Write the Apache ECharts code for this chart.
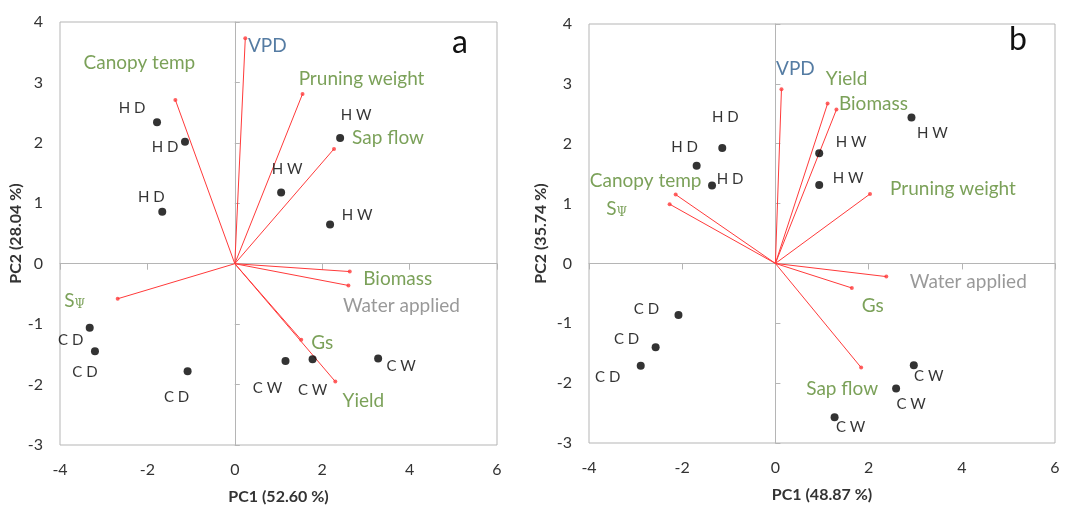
<!DOCTYPE html>
<html>
<head>
<meta charset="utf-8">
<script src="https://cdn.jsdelivr.net/npm/echarts@6/dist/echarts.min.js"></script>
<style>html,body{margin:0;padding:0;background:#fff}#c{width:1073px;height:505px}</style>
</head>
<body>
<div id="c"></div>
<script>
// ---------- Data: panel a ----------
const varNamesA = ['VPD','Canopy temp','Pruning weight','Sap flow','Biomass','Water applied','SΨ','Gs','Yield'];
const varPC1A = [0.24, -1.36, 1.55, 2.27, 2.63, 2.60, -2.68, 1.52, 2.30];
const varPC2A = [3.73, 2.71, 2.81, 1.90, -0.13, -0.36, -0.58, -1.26, -1.95];
const obsNamesA = ['H D','H D','H D','H W','H W','H W','C D','C D','C D','C W','C W','C W'];
const obsPC1A = [-1.78, -1.14, -1.66, 2.41, 1.06, 2.18, -3.32, -3.20, -1.08, 1.16, 1.78, 3.28];
const obsPC2A = [2.34, 2.02, 0.86, 2.08, 1.18, 0.65, -1.06, -1.45, -1.78, -1.61, -1.58, -1.57];

// ---------- Data: panel b ----------
const varNamesB = ['VPD','Yield','Biomass','Pruning weight','Canopy temp','SΨ','Water applied','Gs','Sap flow'];
const varPC1B = [0.13, 1.12, 1.31, 2.03, -2.14, -2.27, 2.38, 1.64, 1.84];
const varPC2B = [2.91, 2.67, 2.57, 1.16, 1.15, 0.99, -0.22, -0.41, -1.74];
const obsNamesB = ['H D','H D','H D','H W','H W','H W','C D','C D','C D','C W','C W','C W'];
const obsPC1B = [-1.14, -1.69, -1.36, 0.94, 0.94, 2.92, -2.08, -2.57, -2.89, 2.97, 2.59, 1.27];
const obsPC2B = [1.93, 1.63, 1.30, 1.84, 1.31, 2.44, -0.86, -1.40, -1.71, -1.70, -2.09, -2.57];

// ---------- Axis ----------
const xTicks = [-4, -2, 0, 2, 4, 6];
const yTicks = [-3, -2, -1, 0, 1, 2, 3, 4];
const axisTitles = { ax: 'PC1 (52.60 %)', ay: 'PC2 (28.04 %)', bx: 'PC1 (48.87 %)', by: 'PC2 (35.74 %)' };

// ---------- Styles (label offsets in px) ----------
const varOffA = [[22,8],[-36,-37],[59,-15],[54,-11],[48,7],[53,20],[-43,2],[21,3],[28,19]];
const obsOffA = [[-25,-14],[-20,6],[-11,-15],[16,-23],[6,-23],[27,-9],[-19,12],[-10,21],[-11,26],[-18,27],[0,31],[23,8]];
const varOffB = [[14,-20],[19,-25],[37,-6],[83,-5],[-30,-14],[-53,5],[82,5],[21,18],[-19,21]];
const obsOffB = [[3,-31],[-12,-19],[18,-6],[32,-11],[29,-7],[21,16],[-32,-6],[-29,-8],[-33,11],[15,11],[15,16],[16,10]];
const yNameGaps = [35, 40];

const GREEN = '#5a8a30', BLUE = '#2b5b8c', GREY = '#7f7f7f', RED = '#ff3a3a';
const FONT = 'Lato';
function varColor(n){ return n === 'VPD' ? BLUE : (n === 'Water applied' ? GREY : GREEN); }

const grids = [
  { left: 60, top: 22, width: 437, height: 423, show: true, borderColor: '#b5b5b5', borderWidth: 1, backgroundColor: '#fff', containLabel: false, outerBoundsMode: 'none' },
  { left: 589, top: 24, width: 466, height: 419, show: true, borderColor: '#b5b5b5', borderWidth: 1, backgroundColor: '#fff', containLabel: false, outerBoundsMode: 'none' }
];

const xAxes = [], yAxes = [];
[['ax','ay'],['bx','by']].forEach((t, g) => {
  xAxes.push({
    gridIndex: g, type: 'value', min: xTicks[0], max: xTicks[xTicks.length-1], interval: 2,
    position: 'bottom', axisLine: { show: false, onZero: false }, axisTick: { show: false }, splitLine: { show: false },
    axisLabel: { margin: 17, fontFamily: FONT, fontSize: 16, color: '#333' },
    name: axisTitles[t[0]], nameLocation: 'middle', nameGap: 44,
    nameTextStyle: { fontFamily: FONT, fontSize: 16, fontWeight: 'bold', color: '#333' }
  });
  xAxes.push({
    gridIndex: g, type: 'value', min: xTicks[0], max: xTicks[xTicks.length-1], interval: 2,
    axisLine: { show: true, onZero: true, lineStyle: { color: '#b5b5b5', width: 1 } },
    axisTick: { show: true, inside: true, length: 6, lineStyle: { color: '#b5b5b5' } },
    axisLabel: { show: false }, splitLine: { show: false }
  });
  yAxes.push({
    gridIndex: g, type: 'value', min: yTicks[0], max: yTicks[yTicks.length-1], interval: 1,
    position: 'left', axisLine: { show: false, onZero: false }, axisTick: { show: false }, splitLine: { show: false },
    axisLabel: { margin: 17, fontFamily: FONT, fontSize: 16, color: '#333' },
    name: axisTitles[t[1]], nameLocation: 'middle', nameGap: yNameGaps[g],
    nameTextStyle: { fontFamily: FONT, fontSize: 16, fontWeight: 'bold', color: '#333' }
  });
  yAxes.push({
    gridIndex: g, type: 'value', min: yTicks[0], max: yTicks[yTicks.length-1], interval: 1,
    axisLine: { show: true, onZero: true, lineStyle: { color: '#b5b5b5', width: 1 } },
    axisTick: { show: true, length: 5, lineStyle: { color: '#b5b5b5' } },
    axisLabel: { show: false }, splitLine: { show: false }
  });
});

function buildSeries(g, vNames, vX, vY, vOff, oNames, oX, oY, oOff) {
  const xi = g * 2, yi = g * 2;
  return [
    {
      type: 'lines', coordinateSystem: 'cartesian2d', xAxisIndex: xi, yAxisIndex: yi,
      lineStyle: { color: RED, width: 1, opacity: 1 }, silent: true, z: 3,
      data: vNames.map((n, i) => ({ coords: [[0, 0], [vX[i], vY[i]]] }))
    },
    {
      type: 'scatter', xAxisIndex: xi, yAxisIndex: yi, symbolSize: 4, z: 4,
      itemStyle: { color: RED },
      data: vNames.map((n, i) => ({
        name: n, value: [vX[i], vY[i]],
        label: {
          show: true, position: 'inside', offset: vOff[i], align: 'center', verticalAlign: 'middle',
          color: varColor(n), fontFamily: FONT, fontSize: 19,
          formatter: n === 'SΨ' ? '{s|S}{sub|Ψ}' : n,
          rich: {
            s: { fontFamily: FONT, fontSize: 19, color: GREEN },
            sub: { fontFamily: 'DejaVu Serif', fontSize: 12, color: GREEN, padding: [8, 0, 0, 0] }
          }
        }
      }))
    },
    {
      type: 'scatter', xAxisIndex: xi, yAxisIndex: yi, symbolSize: 8, z: 5,
      itemStyle: { color: '#000' },
      data: oNames.map((n, i) => ({
        name: n, value: [oX[i], oY[i]],
        label: {
          show: true, position: 'inside', offset: oOff[i], align: 'center', verticalAlign: 'middle',
          color: '#000', fontFamily: FONT, fontSize: 15, formatter: n
        }
      }))
    }
  ];
}

const chart = echarts.init(document.getElementById('c'), null, { renderer: 'canvas' });
chart.setOption({
  animation: false,
  backgroundColor: '#fff',
  grid: grids,
  xAxis: xAxes,
  yAxis: yAxes,
  graphic: [
    { type: 'text', left: 452, top: 27, style: { text: 'a', font: '32px Lato', fill: '#111' } },
    { type: 'text', left: 1009, top: 24, style: { text: 'b', font: '32px Lato', fill: '#111' } }
  ],
  series: [].concat(
    buildSeries(0, varNamesA, varPC1A, varPC2A, varOffA, obsNamesA, obsPC1A, obsPC2A, obsOffA),
    buildSeries(1, varNamesB, varPC1B, varPC2B, varOffB, obsNamesB, obsPC1B, obsPC2B, obsOffB)
  )
});
</script>
</body>
</html>
